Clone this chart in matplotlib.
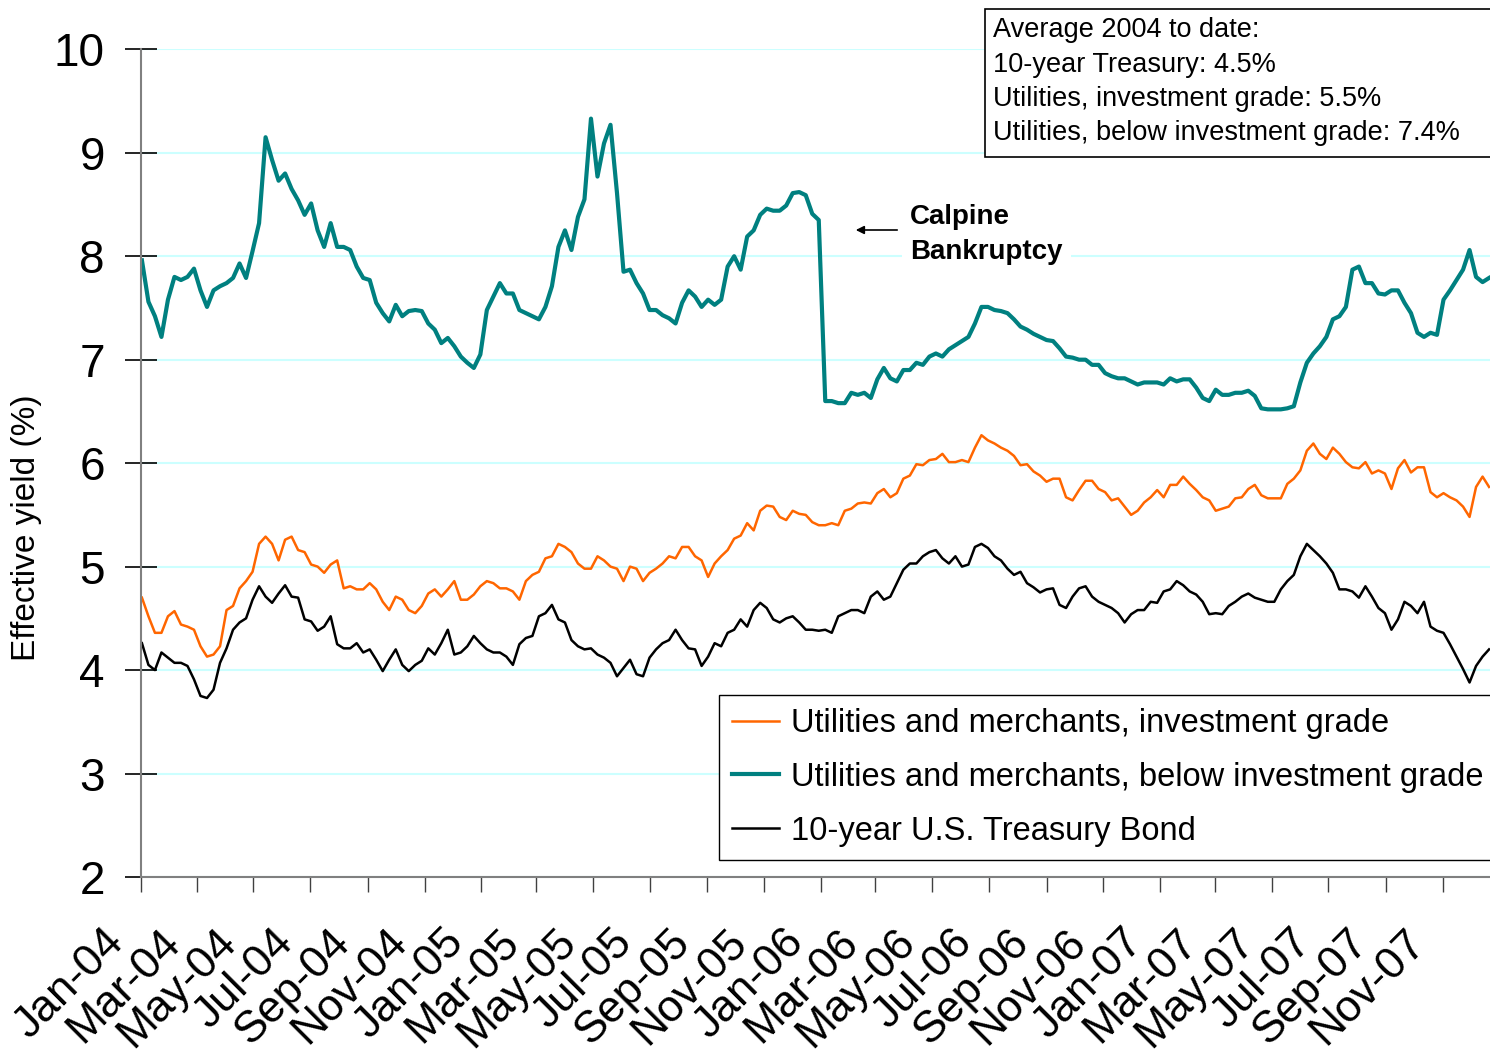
import matplotlib
matplotlib.use('Agg')
import matplotlib.pyplot as plt
import matplotlib.dates as mdates
import matplotlib.transforms as mtransforms
from matplotlib.patches import Rectangle
import pandas as pd

plt.rcParams['font.family'] = ['Liberation Sans', 'DejaVu Sans']

# weekly readings (Fridays), Jan-2004 .. Dec-2007
dates = pd.date_range('2004-01-02', periods=208, freq='7D')

below_grade = [
    7.96, 7.56, 7.42, 7.22, 7.58, 7.80, 7.77, 7.80, 7.88, 7.67,
    7.51, 7.67, 7.71, 7.74, 7.79, 7.93, 7.79, 8.05, 8.32, 9.15,
    8.93, 8.73, 8.80, 8.65, 8.54, 8.40, 8.51, 8.25, 8.09, 8.32,
    8.09, 8.09, 8.06, 7.90, 7.79, 7.77, 7.55, 7.45, 7.37, 7.53,
    7.42, 7.47, 7.48, 7.47, 7.35, 7.29, 7.16, 7.21, 7.13, 7.03,
    6.97, 6.92, 7.05, 7.48, 7.61, 7.74, 7.64, 7.64, 7.48, 7.45,
    7.42, 7.39, 7.51, 7.71, 8.09, 8.25, 8.06, 8.38, 8.55, 9.33,
    8.77, 9.09, 9.27, 8.61, 7.85, 7.87, 7.74, 7.64, 7.48, 7.48,
    7.43, 7.40, 7.35, 7.55, 7.67, 7.61, 7.51, 7.58, 7.53, 7.58,
    7.90, 8.00, 7.87, 8.19, 8.25, 8.40, 8.46, 8.44, 8.44, 8.49,
    8.61, 8.62, 8.59, 8.41, 8.35, 6.60, 6.60, 6.58, 6.58, 6.68,
    6.66, 6.68, 6.63, 6.81, 6.92, 6.82, 6.79, 6.90, 6.90, 6.97,
    6.95, 7.03, 7.06, 7.03, 7.10, 7.14, 7.18, 7.22, 7.35, 7.51,
    7.51, 7.48, 7.47, 7.45, 7.39, 7.32, 7.29, 7.25, 7.22, 7.19,
    7.18, 7.11, 7.03, 7.02, 7.00, 7.00, 6.95, 6.95, 6.87, 6.84,
    6.82, 6.82, 6.79, 6.76, 6.78, 6.78, 6.78, 6.76, 6.82, 6.79,
    6.81, 6.81, 6.73, 6.63, 6.60, 6.71, 6.66, 6.66, 6.68, 6.68,
    6.70, 6.65, 6.53, 6.52, 6.52, 6.52, 6.53, 6.55, 6.78, 6.97,
    7.06, 7.13, 7.22, 7.39, 7.42, 7.51, 7.87, 7.90, 7.74, 7.74,
    7.64, 7.63, 7.67, 7.67, 7.55, 7.45, 7.26, 7.22, 7.26, 7.24,
    7.58, 7.67, 7.77, 7.87, 8.06, 7.80, 7.75, 7.79,
]

invest_grade = [
    4.70, 4.52, 4.36, 4.36, 4.52, 4.57, 4.44, 4.42, 4.39, 4.23,
    4.13, 4.15, 4.23, 4.58, 4.62, 4.79, 4.86, 4.95, 5.22, 5.29,
    5.22, 5.06, 5.26, 5.29, 5.16, 5.14, 5.02, 5.00, 4.94, 5.02,
    5.06, 4.79, 4.81, 4.78, 4.78, 4.84, 4.78, 4.66, 4.58, 4.71,
    4.68, 4.58, 4.55, 4.62, 4.74, 4.78, 4.71, 4.78, 4.86, 4.68,
    4.68, 4.73, 4.81, 4.86, 4.84, 4.79, 4.79, 4.76, 4.68, 4.86,
    4.92, 4.95, 5.08, 5.10, 5.22, 5.19, 5.14, 5.03, 4.98, 4.98,
    5.10, 5.06, 5.00, 4.98, 4.86, 5.00, 4.98, 4.86, 4.94, 4.98,
    5.03, 5.10, 5.08, 5.19, 5.19, 5.10, 5.06, 4.90, 5.03, 5.10,
    5.16, 5.27, 5.30, 5.42, 5.35, 5.54, 5.59, 5.58, 5.48, 5.45,
    5.54, 5.51, 5.50, 5.43, 5.40, 5.40, 5.42, 5.40, 5.54, 5.56,
    5.61, 5.62, 5.61, 5.71, 5.75, 5.67, 5.71, 5.85, 5.88, 5.99,
    5.98, 6.03, 6.04, 6.09, 6.01, 6.01, 6.03, 6.01, 6.15, 6.27,
    6.22, 6.19, 6.15, 6.12, 6.07, 5.98, 5.99, 5.92, 5.88, 5.82,
    5.85, 5.85, 5.67, 5.64, 5.74, 5.83, 5.83, 5.75, 5.72, 5.64,
    5.66, 5.58, 5.50, 5.54, 5.62, 5.67, 5.74, 5.67, 5.79, 5.79,
    5.87, 5.80, 5.74, 5.67, 5.64, 5.54, 5.56, 5.58, 5.66, 5.67,
    5.75, 5.79, 5.69, 5.66, 5.66, 5.66, 5.80, 5.85, 5.93, 6.12,
    6.19, 6.09, 6.04, 6.15, 6.09, 6.01, 5.96, 5.95, 6.01, 5.90,
    5.93, 5.90, 5.75, 5.95, 6.03, 5.91, 5.96, 5.96, 5.72, 5.67,
    5.71, 5.67, 5.64, 5.58, 5.48, 5.77, 5.87, 5.77,
]

treasury = [
    4.26, 4.05, 4.00, 4.17, 4.12, 4.07, 4.07, 4.04, 3.91, 3.75,
    3.73, 3.81, 4.07, 4.21, 4.39, 4.46, 4.50, 4.68, 4.81, 4.71,
    4.65, 4.74, 4.82, 4.71, 4.70, 4.49, 4.47, 4.38, 4.42, 4.52,
    4.25, 4.21, 4.21, 4.26, 4.17, 4.20, 4.10, 3.99, 4.10, 4.20,
    4.05, 3.99, 4.05, 4.09, 4.21, 4.15, 4.26, 4.39, 4.15, 4.17,
    4.23, 4.33, 4.26, 4.20, 4.17, 4.17, 4.13, 4.05, 4.25, 4.31,
    4.33, 4.52, 4.55, 4.63, 4.49, 4.46, 4.29, 4.23, 4.20, 4.21,
    4.15, 4.12, 4.07, 3.94, 4.02, 4.10, 3.96, 3.94, 4.12, 4.20,
    4.26, 4.29, 4.39, 4.29, 4.21, 4.20, 4.04, 4.13, 4.26, 4.23,
    4.36, 4.39, 4.49, 4.42, 4.58, 4.65, 4.60, 4.49, 4.46, 4.50,
    4.52, 4.46, 4.39, 4.39, 4.38, 4.39, 4.36, 4.52, 4.55, 4.58,
    4.58, 4.55, 4.71, 4.76, 4.68, 4.71, 4.84, 4.97, 5.03, 5.03,
    5.10, 5.14, 5.16, 5.08, 5.03, 5.10, 5.00, 5.02, 5.19, 5.22,
    5.18, 5.10, 5.06, 4.98, 4.92, 4.95, 4.84, 4.80, 4.75, 4.78,
    4.79, 4.63, 4.60, 4.71, 4.79, 4.81, 4.71, 4.66, 4.63, 4.60,
    4.55, 4.46, 4.54, 4.58, 4.58, 4.66, 4.65, 4.76, 4.78, 4.86,
    4.82, 4.76, 4.73, 4.66, 4.54, 4.55, 4.54, 4.62, 4.66, 4.71,
    4.74, 4.70, 4.68, 4.66, 4.66, 4.78, 4.86, 4.92, 5.10, 5.22,
    5.16, 5.10, 5.03, 4.94, 4.78, 4.78, 4.76, 4.70, 4.81, 4.71,
    4.60, 4.55, 4.39, 4.49, 4.66, 4.62, 4.55, 4.66, 4.42, 4.38,
    4.36, 4.25, 4.13, 4.01, 3.88, 4.04, 4.13, 4.20,
]

avg_lines = [
    'Average 2004 to date:',
    '10-year Treasury: 4.5%',
    'Utilities, investment grade: 5.5%',
    'Utilities, below investment grade: 7.4%',
]

W, H = 1490, 1054
fig = plt.figure(figsize=(W / 100, H / 100), dpi=100)
ax = fig.add_axes([141 / W, 1 - 877 / H, 1 - 141 / W, (877 - 49.3) / H])

ax.plot(dates, invest_grade, color='#FF6600', lw=1.8,
        label='Utilities and merchants, investment grade')
ax.plot(dates, below_grade, color='#008080', lw=3.0,
        label='Utilities and merchants, below investment grade')
ax.plot(dates, treasury, color='black', lw=1.8,
        label='10-year U.S. Treasury Bond')

ax.set_xlim(pd.Timestamp('2004-01-01'), pd.Timestamp('2007-12-22'))
ax.set_ylim(2, 10)
ax.set_yticks(range(2, 11))
ax.xaxis.set_major_locator(mdates.MonthLocator(bymonth=[1, 3, 5, 7, 9, 11]))
ax.xaxis.set_major_formatter(mdates.DateFormatter('%b-%y'))

ax.grid(axis='y', color='#CCFFFF', lw=1.5)
ax.set_axisbelow(True)
for s in ['top', 'right']:
    ax.spines[s].set_visible(False)
for s in ['left', 'bottom']:
    ax.spines[s].set_color('#808080')
    ax.spines[s].set_linewidth(1.5)

ax.tick_params(axis='y', direction='inout', length=23, width=1.2,
               color='black', labelsize=33, pad=14.5)
ax.tick_params(axis='x', direction='out', length=11, width=1.0,
               color='#404040', labelsize=32, pad=21)
# rotated month labels, nudged left like the original
shift = mtransforms.ScaledTranslation(-9 / 100, 0, fig.dpi_scale_trans)
for lbl in ax.get_xticklabels():
    lbl.set_rotation(45)
    lbl.set_ha('right')
    lbl.set_va('top')
    lbl.set_transform(lbl.get_transform() + shift)

fig.text(27 / W, 1 - 528 / H, 'Effective yield (%)', rotation=90,
         ha='center', va='center', fontsize=24)

# Calpine note
ax.annotate('', xy=((853 - 141) / 1349, (877 - 230) / 827.7),
            xytext=((900 - 141) / 1349, (877 - 230) / 827.7),
            xycoords='axes fraction', textcoords='axes fraction',
            arrowprops=dict(arrowstyle='-|>', color='black', lw=1.2,
                            mutation_scale=12))
ax.text((910 - 141) / 1349, (877 - 235) / 827.7, 'Calpine\nBankruptcy',
        transform=ax.transAxes, ha='left', va='center', fontsize=20,
        fontweight='bold', linespacing=1.45,
        bbox=dict(facecolor='white', edgecolor='none', pad=6))

# averages box
fig.patches.append(Rectangle((985 / W, 1 - 157 / H), (1495 - 985) / W, 148 / H,
                             transform=fig.transFigure, facecolor='white',
                             edgecolor='black', lw=1.2, zorder=5))
for i, line in enumerate(avg_lines):
    fig.text(993 / W, 1 - (37 + 34.5 * i) / H, line, ha='left', va='baseline',
             fontsize=19.5, zorder=6)

leg = ax.legend(loc='upper left', bbox_to_anchor=(719 / W, 1 - 695 / H),
                bbox_transform=fig.transFigure, fancybox=False, framealpha=1,
                edgecolor='black', borderaxespad=0, fontsize=23.5,
                handlelength=1.45, handletextpad=0.37, labelspacing=0.7,
                borderpad=0.4)
leg.get_frame().set_linewidth(1.0)

fig.savefig('out.png', dpi=100)
